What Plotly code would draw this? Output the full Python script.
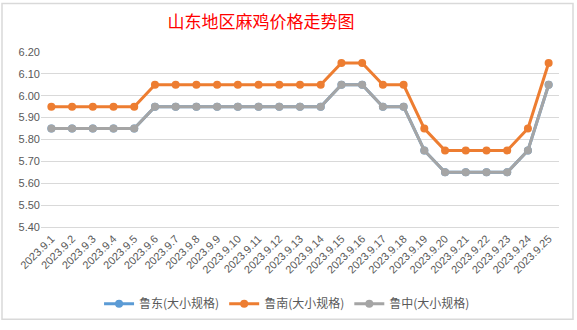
import plotly.graph_objects as go

dates = ["2023.9.%d" % d for d in range(1, 26)]
ludong = [5.85]*5 + [5.95]*9 + [6.05, 6.05, 5.95, 5.95, 5.75, 5.65, 5.65, 5.65, 5.65, 5.75, 6.05]
lunan = [5.95]*5 + [6.05]*9 + [6.15, 6.15, 6.05, 6.05, 5.85, 5.75, 5.75, 5.75, 5.75, 5.85, 6.15]
luzhong = [5.85]*5 + [5.95]*9 + [6.05, 6.05, 5.95, 5.95, 5.75, 5.65, 5.65, 5.65, 5.65, 5.75, 6.05]
names = ["鲁东(大小规格)", "鲁南(大小规格)", "鲁中(大小规格)"]
colors = ["#5B9BD5", "#ED7D31", "#A5A5A5"]
yticks = [5.40, 5.50, 5.60, 5.70, 5.80, 5.90, 6.00, 6.10, 6.20]

fig = go.Figure()
for vals, name, c in zip([ludong, lunan, luzhong], names, colors):
    fig.add_trace(go.Scatter(x=dates, y=vals, name=name, mode="lines+markers",
                             line=dict(color=c, width=3), marker=dict(color=c, size=8)))

fig.update_layout(
    width=577, height=330,
    margin=dict(l=41, r=18, t=52, b=98),
    paper_bgcolor="white", plot_bgcolor="white",
    font=dict(family="Noto Sans CJK SC, Liberation Sans", color="#595959"),
    title=dict(text="山东地区麻鸡价格走势图", x=261/577, xanchor="center", y=1-22/330, yanchor="middle",
               font=dict(family="Noto Sans CJK SC", size=17, color="#FF0000")),
    showlegend=True,
    legend=dict(orientation="h", x=0.475, xanchor="center", y=-(311-232)/180, yanchor="middle",
                font=dict(size=12, color="#595959"), itemwidth=30, traceorder="normal"),
    xaxis=dict(type="category", range=[-0.5, 24.5], tickangle=-45, tickfont=dict(size=11, family="Liberation Sans"),
               showgrid=False, showline=True, linecolor="#D9D9D9", ticks="", zeroline=False),
    yaxis=dict(range=[5.40, 6.20], tickvals=yticks, ticktext=["%.2f" % v for v in yticks],
               tickfont=dict(size=11, family="Liberation Sans"), showgrid=True, gridcolor="#D9D9D9",
               zeroline=False, showline=False, ticks="", ticklen=6, tickcolor="white"),
)
fig.add_shape(type="rect", xref="paper", yref="paper",
              x0=(2-41)/518, x1=(573-41)/518, y0=(232-327)/180, y1=(232-2)/180,
              line=dict(color="#D9D9D9", width=1.5))
fig.write_html("out.html")
